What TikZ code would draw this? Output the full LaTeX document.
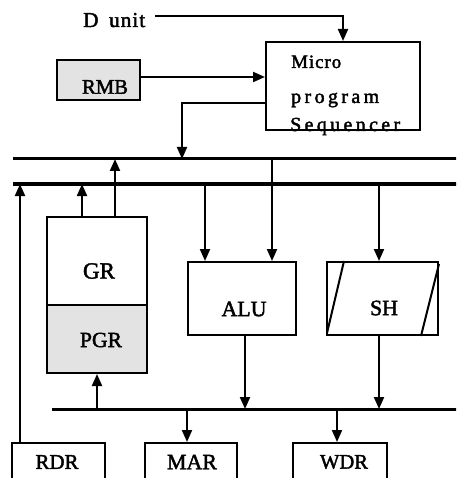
\documentclass[tikz,border=0pt]{standalone}
\usepackage{fontspec}
\usepackage{graphicx}
\setmainfont[FakeBold=2]{Liberation Serif}
\newfontfamily\spacedfont[LetterSpace=17,FakeBold=2]{Liberation Serif}
\newcommand{\fitw}[2]{\resizebox{#1}{!}{#2}}
\usetikzlibrary{arrows.meta}
\begin{document}
\begin{tikzpicture}[x=1pt,y=-1pt,
  box/.style={draw,line width=2pt,inner sep=0pt},
  shaded/.style={box,fill=gray!22},
  conn/.style={line width=2pt},
  arr/.style={conn,-{Triangle[length=12pt,width=10pt]}},
  bus/.style={line width=3pt},
  lbl/.style={inner sep=0pt,font=\fontsize{22}{26}\selectfont},
  seqtxt/.style={inner sep=0pt,anchor=base west}]
\useasboundingbox (0,0) rectangle (456,478);
\clip (0,0) rectangle (456,478);

% buses
\coordinate (b1w) at (13,159); \coordinate (b1e) at (458,159);
\coordinate (b2w) at (13,184); \coordinate (b2e) at (458,184);
\coordinate (b3w) at (52,409); \coordinate (b3e) at (458,409);
\draw[bus] (b1w) -- (b1e);
\draw[bus] (b2w) -- (b2e);
\draw[bus] (b3w) -- (b3e);

% top part
\node[inner sep=0pt,anchor=base west,font=\fontsize{20}{24}\selectfont] (dunit) at (83,27) {\fitw{62pt}{D\hspace{10pt}u\kern1pt n\kern1pt i\kern1pt t}};
\node[box,minimum width=154pt,minimum height=88pt] (seq) at (343,86) {};
\node[seqtxt,font=\fontsize{19}{22}\selectfont] (seq1) at (291,68) {\fitw{50pt}{M\kern1pt i\kern1pt c\kern1pt r\kern1pt o}};
\node[seqtxt,font=\spacedfont\fontsize{18.5}{22}\selectfont] (seq2) at (291,103) {\fitw{88pt}{program}};
\node[seqtxt,font=\spacedfont\fontsize{18.5}{22}\selectfont] (seq3) at (290,131) {\fitw{110pt}{Sequencer}};
\node[shaded,minimum width=83pt,minimum height=40pt] (rmb) at (98.5,80) {};
\node[lbl,font=\fontsize{21}{25}\selectfont] (rmbt) at (105,87) {\fitw{46pt}{RMB}};

% middle
\node[box,minimum width=100pt,minimum height=88pt] (gr) at (97,261) {};
\node[shaded,minimum width=100pt,minimum height=68pt] (pgr) at (97,339) {};
\node[lbl] (grt) at (99,271) {\fitw{32pt}{GR}};
\node[lbl] (pgrt) at (101,340) {\fitw{42pt}{PGR}};
\node[box,minimum width=108pt,minimum height=73pt] (alu) at (242,298.5) {};
\node[lbl] (alut) at (244,309) {\fitw{45pt}{ALU}};
\node[box,minimum width=111pt,minimum height=73pt] (sh) at (382.5,298.5) {};
\node[lbl] (sht) at (384,308) {\fitw{28pt}{SH}};
\draw[conn] ([xshift=18pt]sh.north west) -- ([xshift=1pt,yshift=3pt]sh.south west);
\draw[conn] ([yshift=-3pt]sh.north east) -- ([xshift=-18pt]sh.south east);

% bottom
\node[box,minimum width=93pt,minimum height=45pt] (rdr) at (58.5,465.5) {};
\node[box,minimum width=92pt,minimum height=45pt] (mar) at (191,465.5) {};
\node[box,minimum width=94pt,minimum height=45pt] (wdr) at (340,465.5) {};
\node[lbl] (rdrt) at (57,462) {\fitw{43pt}{RDR}};
\node[lbl] (mart) at (192,462) {\fitw{50pt}{MAR}};
\node[lbl] (wdrt) at (344,462) {\fitw{48pt}{WDR}};

% junction points
\coordinate (b1seq) at (182,159);
\coordinate (b1gr) at (115,159);
\coordinate (b1alu) at (272,159);
\coordinate (b2rdr) at (20,184);
\coordinate (b2gr) at (82,184);
\coordinate (b2alu) at (205,184);
\coordinate (b2sh) at (379,184);
\coordinate (b3pgr) at (97,409);
\coordinate (b3alu) at (245,409);
\coordinate (b3sh) at (379,409);
\coordinate (b3mar) at (187,409);
\coordinate (b3wdr) at (337,409);
\coordinate (dstart) at (155,16);
\coordinate (rmbout) at ([yshift=3pt]rmb.east);
\coordinate (seqout) at ([yshift=-17pt]seq.west);

% connectors
\draw[arr] (dstart) -| (seq.north);
\draw[arr] (rmbout) -- (rmbout -| seq.west);
\draw[arr] (seqout) -| (b1seq);
\draw[arr] (gr.north -| b1gr) -- (b1gr);
\draw[arr] (gr.north -| b2gr) -- (b2gr);
\draw[arr] (rdr.north -| b2rdr) -- (b2rdr);
\draw[arr] (b2alu) -- (alu.north -| b2alu);
\draw[arr] (b1alu) -- (alu.north -| b1alu);
\draw[arr] (b2sh) -- (sh.north -| b2sh);
\draw[arr] (alu.south -| b3alu) -- (b3alu);
\draw[arr] (sh.south -| b3sh) -- (b3sh);
\draw[arr] (b3pgr) -- (pgr.south -| b3pgr);
\draw[arr] (b3mar) -- (mar.north -| b3mar);
\draw[arr] (b3wdr) -- (wdr.north -| b3wdr);
\end{tikzpicture}
\end{document}
